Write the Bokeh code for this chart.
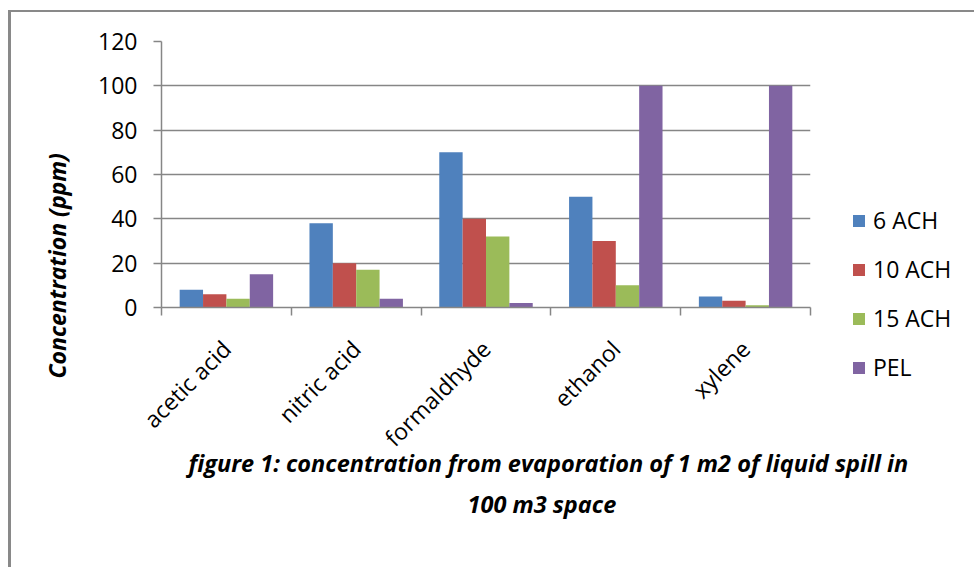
from math import pi
from bokeh.plotting import figure
from bokeh.models import (ColumnDataSource, Range1d, FixedTicker, Legend, LegendItem, Title)
from bokeh.transform import dodge
from bokeh.embed import file_html
from bokeh.resources import INLINE

categories = ["acetic acid", "nitric acid", "formaldhyde", "ethanol", "xylene"]
series_names = ["6 ACH", "10 ACH", "15 ACH", "PEL"]
ach6 = [8, 38, 70, 50, 5]
ach10 = [6, 20, 40, 30, 3]
ach15 = [4, 17, 32, 10, 1]
pel = [15, 4, 2, 100, 100]
y_ticks = [0, 20, 40, 60, 80, 100, 120]
title_line1 = "figure 1: concentration from evaporation of 1 m2 of liquid spill in"
title_line2 = "100 m3 space"
y_title = "Concentration (ppm)"

colors = ["#4F81BD", "#C0504D", "#9BBB59", "#8064A2"]
FONT = "Open Sans"
GRAY = "#868686"
FS = "23px"

xs = [i + 0.5 for i in range(len(categories))]
source = ColumnDataSource(data=dict(x=xs, ach6=ach6, ach10=ach10, ach15=ach15, pel=pel))

p = figure(frame_width=649, frame_height=266, output_backend="svg", toolbar_location=None,
           x_range=Range1d(0, len(categories)), y_range=Range1d(0, 120),
           min_border_left=150, min_border_right=164, min_border_top=29, min_border_bottom=260,
           tools="")
p.margin = (10, 0, 0, 8)
p.styles = {"border-top": "2px solid #898989", "border-left": "3px solid #898989"}
p.outline_line_color = None
p.background_fill_color = "white"
p.border_fill_color = "white"

bw = 0.18
offsets = [-0.27, -0.09, 0.09, 0.27]
renderers = []
for col, off, c in zip(["ach6", "ach10", "ach15", "pel"], offsets, colors):
    r = p.vbar(x=dodge("x", off), top=col, width=bw, bottom=0, source=source,
               fill_color=c, line_color=None)
    renderers.append(r)

# x axis
xa = p.xaxis[0]
xa.ticker = FixedTicker(ticks=xs, minor_ticks=list(range(len(categories) + 1)))
xa.major_label_overrides = {x: c for x, c in zip(xs, categories)}
xa.major_label_orientation = pi / 4
xa.major_tick_line_color = None
xa.major_tick_out = 0
xa.major_tick_in = 0
xa.minor_tick_line_color = GRAY
xa.minor_tick_line_width = 1.5
xa.minor_tick_out = 8
xa.minor_tick_in = 0
xa.axis_line_color = GRAY
xa.axis_line_width = 1.5
xa.major_label_standoff = 29
xa.major_label_text_font = FONT
xa.major_label_text_font_size = FS
xa.major_label_text_color = "black"

ya = p.yaxis[0]
ya.ticker = FixedTicker(ticks=y_ticks, minor_ticks=[])
ya.major_tick_line_color = GRAY
ya.major_tick_line_width = 1.5
ya.major_tick_out = 8
ya.major_tick_in = 0
ya.axis_line_color = GRAY
ya.axis_line_width = 1.5
ya.major_label_standoff = 16
ya.major_label_text_font = FONT
ya.major_label_text_font_size = FS
ya.major_label_text_color = "black"

p.xgrid.grid_line_color = None
p.ygrid.grid_line_color = GRAY
p.ygrid.grid_line_width = 1.5

# Legend in the right panel
items = [LegendItem(label=n, renderers=[r]) for n, r in zip(series_names, renderers)]
legend = Legend(items=items, location=(41, -76), orientation="vertical",
                glyph_width=15, glyph_height=15, label_standoff=7, spacing=17,
                padding=0, margin=0, border_line_color=None, background_fill_alpha=0,
                label_text_font=FONT, label_text_font_size=FS, label_text_color="black")
p.add_layout(legend, "right")

# Y title (left)
yt = Title(text=y_title, align="left", offset=-71, standoff=45,
           text_font=FONT, text_font_size=FS, text_font_style="bold italic",
           text_color="black")
p.add_layout(yt, "left")

# chart title, two lines, below the axis
t1 = Title(text=title_line1, align="left", offset=27, standoff=0, vertical_align="top",
           text_font=FONT, text_font_size="23.5px", text_font_style="bold italic",
           text_color="black")
try:
    t1.standoff = -42
except Exception:
    t1.standoff = 0
t2 = Title(text=title_line2, align="left", offset=306, standoff=36,
           text_font=FONT, text_font_size="23.5px", text_font_style="bold italic",
           text_color="black")
p.add_layout(t1, "below")
p.add_layout(t2, "below")

open("out.html", "w").write(file_html(p, INLINE))
